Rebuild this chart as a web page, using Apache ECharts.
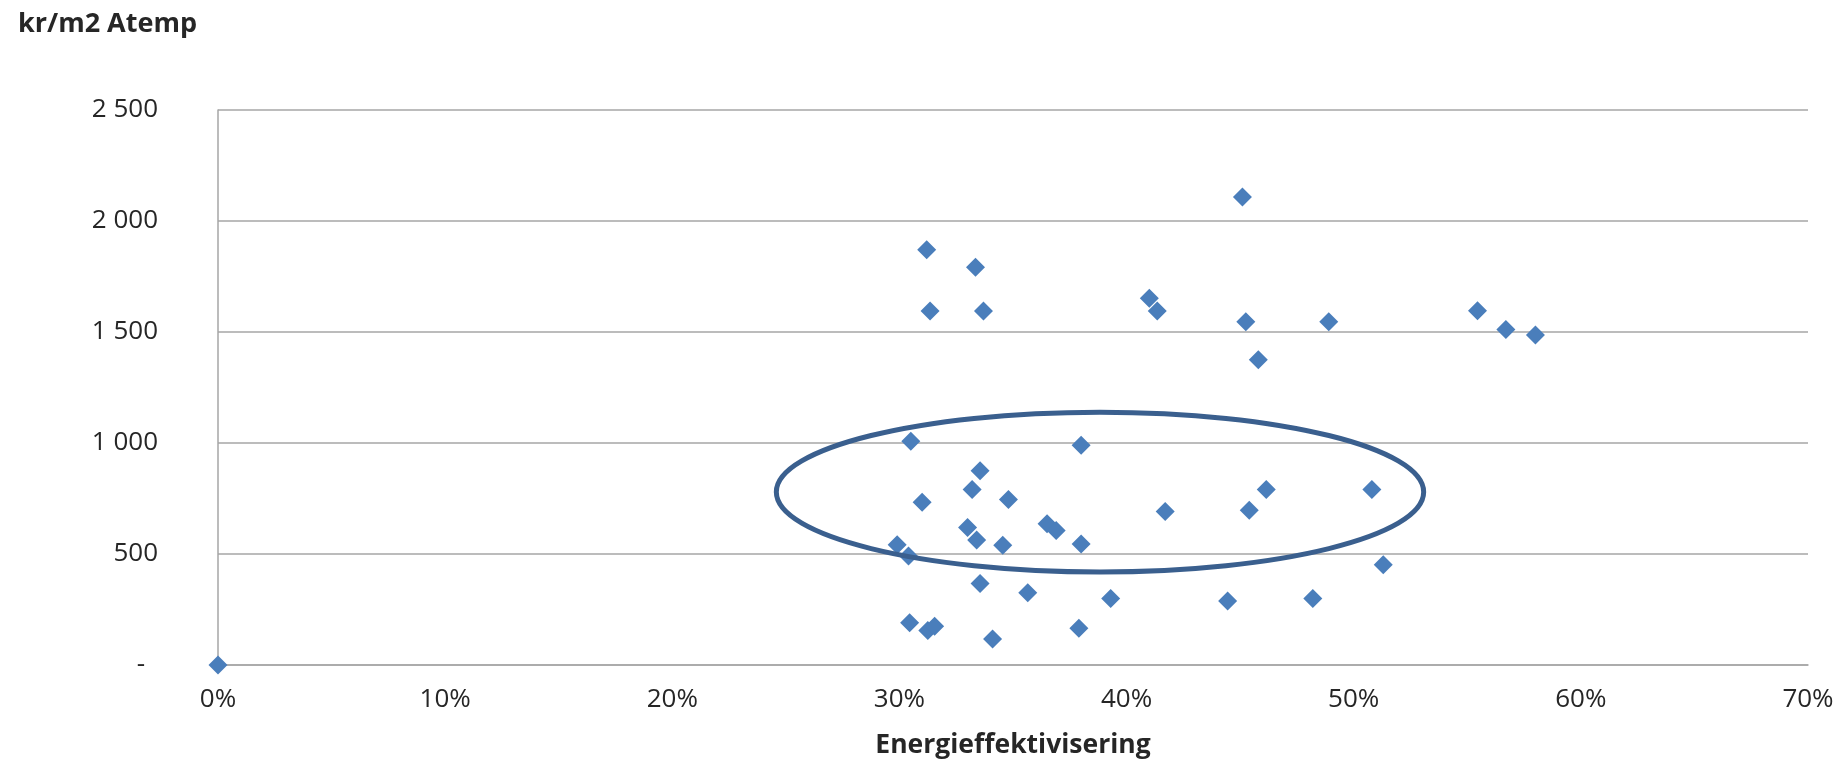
<!DOCTYPE html>
<html>
<head>
<meta charset="utf-8">
<script src="https://cdn.jsdelivr.net/npm/echarts@6/dist/echarts.min.js"></script>
<style>
  html, body { margin: 0; padding: 0; background: #ffffff; }
  #chart { width: 1844px; height: 764px; }
</style>
</head>
<body>
<div id="chart"></div>
<script>
// Energy efficiency gain (%) per project
const efficiency = [
  0, 45.1, 31.2, 33.35, 41.0, 31.35, 33.7, 41.35, 45.25, 48.9,
  55.45, 56.7, 58.0, 45.8, 30.5, 38.0, 33.55, 33.2, 46.15, 50.8,
  34.8, 31.0, 41.7, 45.4, 33.0, 36.5, 36.9, 33.4, 34.55, 38.0,
  29.9, 30.4, 51.3, 33.55, 35.65, 39.3, 44.45, 48.2, 30.45, 31.25,
  31.55, 34.1, 37.9
];
// Investment cost, kr per m2 Atemp
const costPerArea = [
  0, 2108, 1870, 1792, 1652, 1595, 1595, 1595, 1546, 1546,
  1596, 1511, 1486, 1375, 1008, 990, 875, 790, 790, 790,
  745, 733, 691, 697, 619, 636, 606, 563, 539, 545,
  542, 491, 452, 367, 325, 300, 288, 300, 190, 155,
  175, 117, 165
];
// Axis ranges and ticks
const xTicks = [0, 10, 20, 30, 40, 50, 60, 70];
const yTicks = [0, 500, 1000, 1500, 2000, 2500];
// Highlighted cluster: centre and half-widths in data units
const clusterCenter = [38.83, 779];
const clusterHalf = [14.25, 360];

const chart = echarts.init(document.getElementById('chart'), null, { renderer: 'canvas' });

const textColor = '#262626';
const gridColor = '#a6a6a6';

function formatCost(v) {
  if (v === 0) return '{z|-}';
  return String(v).replace(/\B(?=(\d{3})+(?!\d))/g, ' ');
}

const points = efficiency.map((x, i) => [x, costPerArea[i]]);

chart.setOption({
  animation: false,
  backgroundColor: '#ffffff',
  title: {
    text: 'kr/m2 Atemp',
    left: 13,
    top: 6,
    textStyle: { fontFamily: 'Open Sans', fontSize: 27, fontWeight: 'bold', color: textColor }
  },
  grid: { left: 218, right: 36, top: 110, bottom: 97 },
  xAxis: {
    type: 'value',
    min: xTicks[0],
    max: xTicks[xTicks.length - 1],
    interval: xTicks[1] - xTicks[0],
    name: 'Energieffektivisering',
    nameLocation: 'middle',
    nameGap: 67,
    nameTextStyle: { fontFamily: 'Open Sans', fontSize: 26.5, fontWeight: 'bold', color: textColor },
    axisLine: { show: true, lineStyle: { color: gridColor, width: 1.5 } },
    axisTick: { show: false },
    axisLabel: {
      margin: 22,
      fontFamily: 'Open Sans', fontSize: 26, color: textColor,
      formatter: v => v + '%'
    },
    splitLine: { show: false }
  },
  yAxis: {
    type: 'value',
    min: yTicks[0],
    max: yTicks[yTicks.length - 1],
    interval: yTicks[1] - yTicks[0],
    axisLine: { show: true, lineStyle: { color: gridColor, width: 1.5 } },
    axisTick: { show: false },
    axisLabel: {
      margin: 60,
      fontFamily: 'Open Sans', fontSize: 26, color: textColor,
      formatter: formatCost,
      rich: { z: { fontFamily: 'Open Sans', fontSize: 26, color: textColor, padding: [0, 13, 0, 0] } }
    },
    splitLine: { show: true, lineStyle: { color: gridColor, width: 1.5 } }
  },
  series: [{
    type: 'scatter',
    data: points,
    symbol: 'diamond',
    symbolSize: 19,
    clip: false,
    itemStyle: { color: '#4a7ebb', opacity: 1 },
    z: 3
  }]
});

// Outline around the clustered projects, placed through the axes' scales
function drawCluster() {
  const c = chart.convertToPixel({ gridIndex: 0 }, clusterCenter);
  const e = chart.convertToPixel({ gridIndex: 0 }, [clusterCenter[0] + clusterHalf[0], clusterCenter[1] + clusterHalf[1]]);
  chart.setOption({
    graphic: [{
      type: 'ellipse',
      shape: { cx: c[0], cy: c[1], rx: Math.abs(e[0] - c[0]), ry: Math.abs(c[1] - e[1]) },
      style: { fill: null, stroke: '#3a5f8e', lineWidth: 5 },
      z: 10
    }]
  });
}
drawCluster();
</script>
</body>
</html>
